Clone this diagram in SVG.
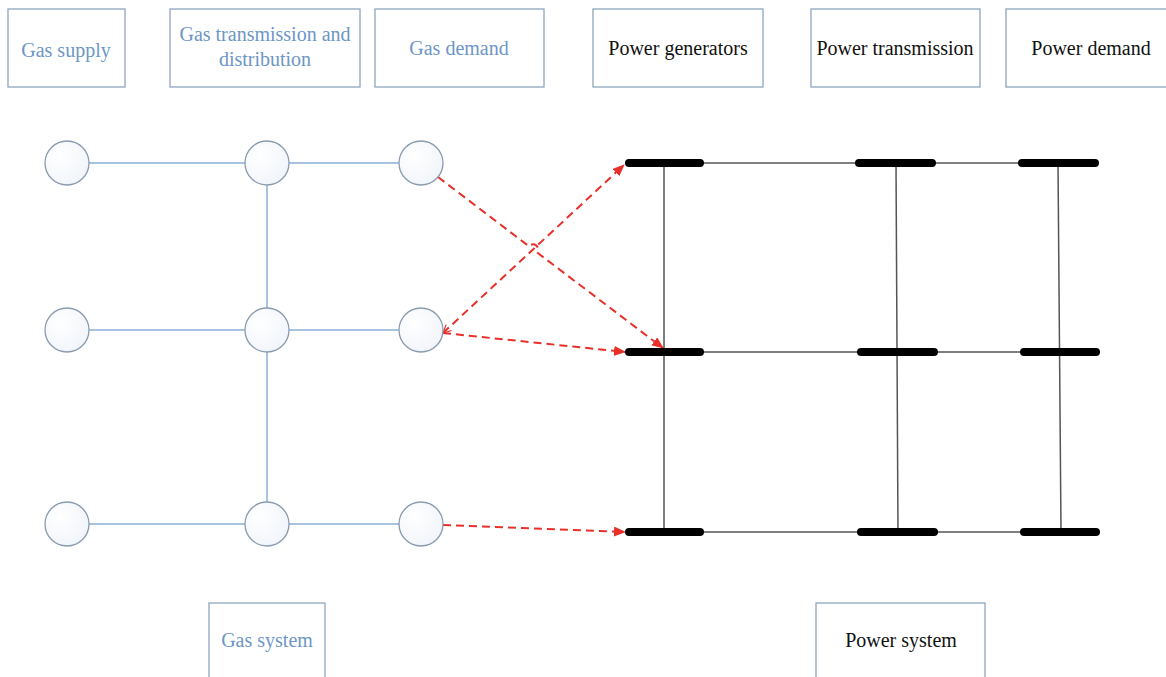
<svg xmlns="http://www.w3.org/2000/svg" width="1166" height="677" viewBox="0 0 1166 677">
<style>
.box{fill:#ffffff;stroke:#8fa6bf;stroke-width:1.3}
.gt{font-family:"Liberation Serif","Times New Roman",serif;font-size:20px;fill:#6d96c6;text-anchor:middle}
.pt{font-family:"Liberation Serif","Times New Roman",serif;font-size:20px;fill:#111111;text-anchor:middle}
.node{fill:url(#cg);stroke:#8a9bb0;stroke-width:1.3}
.pipe{stroke:#a8c2e2;stroke-width:2;fill:none}
.bus{stroke:#000000;stroke-width:8;stroke-linecap:round}
.line{stroke:#555555;stroke-width:1.5;fill:none}
.link{stroke:#e8302a;stroke-width:2;stroke-dasharray:8 5;fill:none}
</style>
<defs>
<radialGradient id="cg" cx="0.35" cy="0.35" r="0.8">
<stop offset="0" stop-color="#ffffff"/>
<stop offset="1" stop-color="#eff3f9"/>
</radialGradient>
<marker id="ah" viewBox="0 0 12 10" refX="11" refY="5" markerWidth="12" markerHeight="10" markerUnits="userSpaceOnUse" orient="auto">
<path d="M0,0 L12,5 L0,10 Z" fill="#e8302a"/>
</marker>
<marker id="ao" viewBox="0 0 10 10" refX="1" refY="5" markerWidth="10" markerHeight="10" markerUnits="userSpaceOnUse" orient="auto">
<path d="M9,1 L1,5 L9,9" fill="none" stroke="#e8302a" stroke-width="1.2"/>
</marker>
</defs>
<rect width="1166" height="677" fill="#ffffff"/>

<g id="label-gas-supply"><rect class="box" x="8" y="9" width="117" height="78"/><text class="gt" x="66" y="57">Gas supply</text></g>
<g id="label-gas-transmission"><rect class="box" x="170" y="9" width="190" height="78"/><text class="gt" x="265" y="41">Gas transmission and</text><text class="gt" x="265" y="66">distribution</text></g>
<g id="label-gas-demand"><rect class="box" x="375" y="9" width="169" height="78"/><text class="gt" x="459" y="55">Gas demand</text></g>
<g id="label-power-generators"><rect class="box" x="593" y="9" width="170" height="78"/><text class="pt" x="678" y="55">Power generators</text></g>
<g id="label-power-transmission"><rect class="box" x="811" y="9" width="169" height="78"/><text class="pt" x="895" y="55">Power transmission</text></g>
<g id="label-power-demand"><rect class="box" x="1006" y="9" width="170" height="78"/><text class="pt" x="1091" y="55">Power demand</text></g>
<g id="label-gas-system"><rect class="box" x="209" y="603" width="116" height="90"/><text class="gt" x="267" y="647">Gas system</text></g>
<g id="label-power-system"><rect class="box" x="816" y="603" width="169" height="90"/><text class="pt" x="901" y="647">Power system</text></g>

<g id="connectors">
<g id="gas-pipes">
<line class="pipe" x1="89" y1="163" x2="245" y2="163"/>
<line class="pipe" x1="289" y1="163" x2="399" y2="163"/>
<line class="pipe" x1="89" y1="330" x2="245" y2="330"/>
<line class="pipe" x1="289" y1="330" x2="399" y2="330"/>
<line class="pipe" x1="89" y1="524" x2="245" y2="524"/>
<line class="pipe" x1="289" y1="524" x2="399" y2="524"/>
<line class="pipe" x1="267" y1="185" x2="267" y2="308"/>
<line class="pipe" x1="267" y1="352" x2="267" y2="502"/>
</g>
<g id="power-lines">
<line class="line" x1="664" y1="163" x2="1058" y2="163"/>
<line class="line" x1="664" y1="352" x2="1061" y2="352"/>
<line class="line" x1="664" y1="532" x2="1061" y2="532"/>
<line class="line" x1="664" y1="163" x2="664" y2="532"/>
<line class="line" x1="896" y1="163" x2="898" y2="532"/>
<line class="line" x1="1058" y1="163" x2="1061" y2="532"/>
</g>
<g id="coupling-links">
<path class="link" d="M438,177 L529,246.3 A5,5 0 0 1 537,252.4 L663,348" marker-end="url(#ah)"/>
<path class="link" d="M443,333 L624,165" marker-start="url(#ao)" marker-end="url(#ah)"/>
<path class="link" d="M443,333 L625,352" marker-end="url(#ah)"/>
<path class="link" d="M443,525 L625,532" marker-end="url(#ah)"/>
</g>
</g>

<g id="gas-nodes">
<g id="g11"><circle class="node" cx="67" cy="163" r="22"/></g>
<g id="g12"><circle class="node" cx="267" cy="163" r="22"/></g>
<g id="g13"><circle class="node" cx="421" cy="163" r="22"/></g>
<g id="g21"><circle class="node" cx="67" cy="330" r="22"/></g>
<g id="g22"><circle class="node" cx="267" cy="330" r="22"/></g>
<g id="g23"><circle class="node" cx="421" cy="330" r="22"/></g>
<g id="g31"><circle class="node" cx="67" cy="524" r="22"/></g>
<g id="g32"><circle class="node" cx="267" cy="524" r="22"/></g>
<g id="g33"><circle class="node" cx="421" cy="524" r="22"/></g>
</g>

<g id="power-buses">
<g id="b11"><line class="bus" x1="629" y1="163" x2="700" y2="163"/></g>
<g id="b12"><line class="bus" x1="859" y1="163" x2="932" y2="163"/></g>
<g id="b13"><line class="bus" x1="1022" y1="163" x2="1095" y2="163"/></g>
<g id="b21"><line class="bus" x1="629" y1="352" x2="700" y2="352"/></g>
<g id="b22"><line class="bus" x1="861" y1="352" x2="934" y2="352"/></g>
<g id="b23"><line class="bus" x1="1024" y1="352" x2="1096" y2="352"/></g>
<g id="b31"><line class="bus" x1="629" y1="532" x2="700" y2="532"/></g>
<g id="b32"><line class="bus" x1="861" y1="532" x2="934" y2="532"/></g>
<g id="b33"><line class="bus" x1="1024" y1="532" x2="1096" y2="532"/></g>
</g>
</svg>
